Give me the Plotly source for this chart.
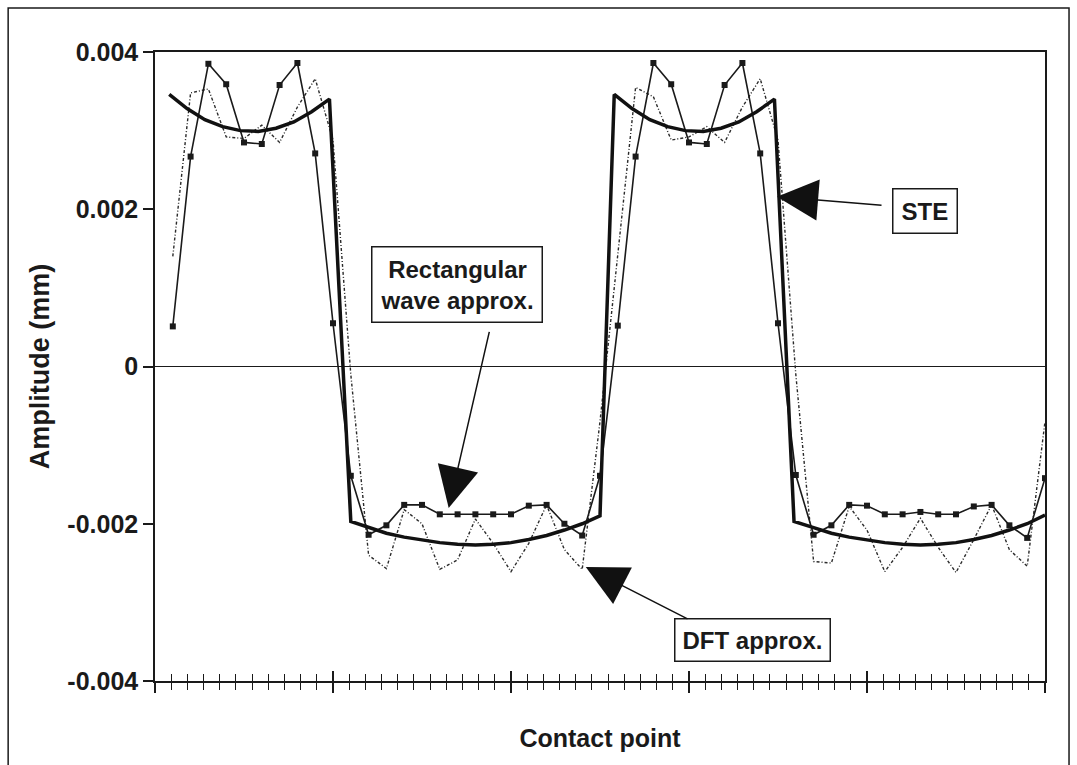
import plotly.graph_objects as go

# ---------------- data ----------------
contact_points = list(range(1, 51))

rect_wave = [
    0.00051, 0.00267, 0.00385, 0.00359, 0.00285, 0.00283, 0.00358, 0.00386, 0.00271, 0.00055,
    -0.00139, -0.00214, -0.00202, -0.00176, -0.00176, -0.00188, -0.00188, -0.00188, -0.00188, -0.00188,
    -0.00177, -0.00176, -0.00200, -0.00215, -0.00139,
    0.00052, 0.00267, 0.00386, 0.00359, 0.00285, 0.00283, 0.00358, 0.00386, 0.00271, 0.00055,
    -0.00138, -0.00214, -0.00202, -0.00176, -0.00177, -0.00188, -0.00188, -0.00185, -0.00188, -0.00188,
    -0.00178, -0.00176, -0.00202, -0.00218, -0.00142,
]

dft_approx = [
    0.00140, 0.00348, 0.00353, 0.00292, 0.00290, 0.00307, 0.00285, 0.00330, 0.00366, 0.00288,
    -0.00010, -0.00240, -0.00257, -0.00182, -0.00200, -0.00258, -0.00246, -0.00194, -0.00225, -0.00261,
    -0.00225, -0.00176, -0.00233, -0.00258, -0.00070,
    0.00140, 0.00355, 0.00343, 0.00288, 0.00292, 0.00305, 0.00285, 0.00330, 0.00366, 0.00288,
    -0.00010, -0.00248, -0.00250, -0.00178, -0.00208, -0.00261, -0.00230, -0.00193, -0.00230, -0.00262,
    -0.00220, -0.00176, -0.00233, -0.00254, -0.00070,
]

ste_x = [
    0.8, 1.8, 2.8, 3.8, 4.8, 5.8, 6.8, 7.8, 8.8, 9.8,
    11.0, 12, 13, 14, 15, 16, 17, 18, 19, 20, 21, 22, 23, 24, 25.0,
    25.8, 26.8, 27.8, 28.8, 29.8, 30.8, 31.8, 32.8, 33.8, 34.8,
    35.9, 37, 38, 39, 40, 41, 42, 43, 44, 45, 46, 47, 48, 49, 50,
]
ste_y = [
    0.00346, 0.00328, 0.00314, 0.00305, 0.00300, 0.00299, 0.00303, 0.00311, 0.00324, 0.00340,
    -0.00197, -0.00205, -0.00212, -0.00217, -0.00221, -0.00224, -0.00226, -0.00227, -0.00226, -0.00224,
    -0.00220, -0.00215, -0.00208, -0.00200, -0.00190,
    0.00346, 0.00328, 0.00314, 0.00305, 0.00300, 0.00299, 0.00303, 0.00311, 0.00324, 0.00340,
    -0.00197, -0.00205, -0.00212, -0.00217, -0.00221, -0.00224, -0.00226, -0.00227, -0.00226, -0.00224,
    -0.00220, -0.00215, -0.00208, -0.00200, -0.00189,
]

y_tick_vals = [0.004, 0.002, 0, -0.002, -0.004]
y_tick_text = ["0.004", "0.002", "0", "-0.002", "-0.004"]

FONT = "Liberation Sans, Arial, sans-serif"
INK = "#1a1a1a"

fig = go.Figure()

fig.add_trace(go.Scatter(
    x=contact_points, y=dft_approx, mode="lines", name="DFT approx.",
    line=dict(color="#2a2a2a", width=1.4, dash="3px,2px,1px,2px"),
))
fig.add_trace(go.Scatter(
    x=contact_points, y=rect_wave, mode="lines+markers", name="Rectangular wave approx.",
    line=dict(color=INK, width=1.6),
    marker=dict(symbol="square", size=6, color=INK),
))
fig.add_trace(go.Scatter(
    x=ste_x, y=ste_y, mode="lines", name="STE", xaxis="x2",
    line=dict(color="#111111", width=3.5),
))

fig.update_layout(
    width=1077, height=765,
    margin=dict(l=155, r=32, t=52, b=84),
    paper_bgcolor="white", plot_bgcolor="white",
    showlegend=False,
    font=dict(family=FONT, color=INK),
    xaxis=dict(
        range=[0, 50], showgrid=False, zeroline=False,
        showline=True, linecolor=INK, linewidth=1.5, mirror=True,
        tickmode="linear", tick0=0, dtick=10, ticks="outside", ticklen=10,
        tickwidth=1.5, tickcolor=INK, showticklabels=False,
        minor=dict(ticks="outside", ticklen=7, tickwidth=1.3, tickcolor=INK,
                   tick0=0, dtick=10 / 11),
        title=dict(text="<b>Contact point</b>", font=dict(size=25), standoff=38),
    ),
    xaxis2=dict(
        range=[0, 50], overlaying="x", side="bottom", anchor="y",
        showgrid=False, zeroline=False, showline=False,
        tickmode="linear", tick0=0, dtick=10, ticks="inside", ticklen=10,
        tickwidth=1.5, tickcolor=INK, showticklabels=False,
        minor=dict(ticks="inside", ticklen=7, tickwidth=1.3, tickcolor=INK,
                   tick0=0, dtick=10 / 11),
    ),
    yaxis=dict(
        range=[-0.004, 0.004], showgrid=False,
        zeroline=True, zerolinecolor=INK, zerolinewidth=1.2,
        showline=True, linecolor=INK, linewidth=1.5, mirror=True,
        tickmode="array", tickvals=y_tick_vals,
        ticktext=["<b>%s</b>" % t for t in y_tick_text],
        ticks="outside", ticklen=10, tickwidth=1.5, tickcolor=INK,
        tickfont=dict(size=25, family=FONT),
        title=dict(text="<b>Amplitude (mm)</b>", font=dict(size=27), standoff=10),
    ),
)

box_font = dict(size=24, family=FONT, color=INK)
fig.add_annotation(x=43.26, y=0.00198, xref="x", yref="y", text="<b>STE</b>",
                   showarrow=False, bordercolor=INK, borderwidth=1.5,
                   borderpad=8, bgcolor="white", font=box_font)
fig.add_annotation(x=16.97, y=0.00104, xref="x", yref="y",
                   text="<b>Rectangular</b><br><b>wave approx.</b>",
                   showarrow=False, bordercolor=INK, borderwidth=1.5,
                   borderpad=8, bgcolor="white", font=box_font)
fig.add_annotation(x=33.54, y=-0.00348, xref="x", yref="y", text="<b>DFT approx.</b>",
                   showarrow=False, bordercolor=INK, borderwidth=1.5,
                   borderpad=7, bgcolor="white", font=box_font)

arrow_style = dict(text="", showarrow=True, arrowhead=2, arrowsize=5.5, arrowwidth=1.5,
                   arrowcolor="#111111", xref="x", yref="y", axref="x", ayref="y")
fig.add_annotation(x=34.94, y=0.00216, ax=40.9, ay=0.00205, **arrow_style)
fig.add_annotation(x=16.5, y=-0.0018, ax=18.8, ay=0.00046, **arrow_style)
fig.add_annotation(x=24.2, y=-0.00255, ax=30.0, ay=-0.00322, **arrow_style)

# outer frame of the figure
fig.add_shape(type="rect", xref="paper", yref="paper",
              x0=-0.165, x1=1.027, y0=-0.25, y1=1.07,
              line=dict(color=INK, width=1.5))

fig.write_html("out.html")
